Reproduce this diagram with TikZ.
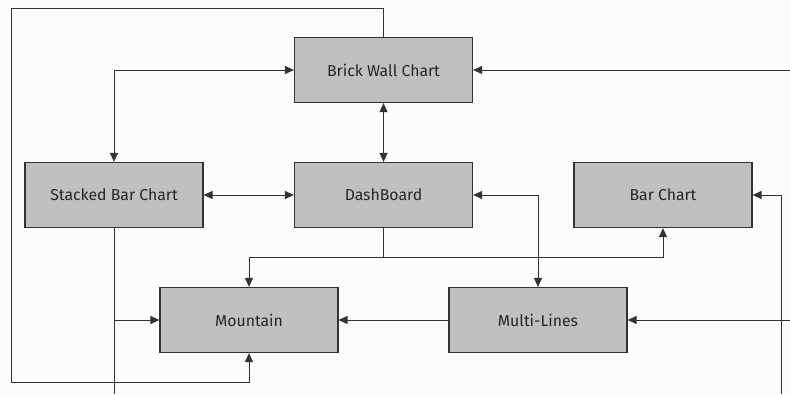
\documentclass[tikz,border=0pt]{standalone}
\usepackage{fontspec}
\setmainfont{Fira Sans}
\usetikzlibrary{arrows.meta}
\definecolor{boxfill}{HTML}{C0C0C0}
\definecolor{linec}{HTML}{333333}
\definecolor{bgc}{HTML}{FCFCFC}
\begin{document}
\begin{tikzpicture}[x=1pt,y=-1pt,
  chartbox/.style={draw=linec,line width=1.2pt,fill=boxfill,minimum width=178pt,minimum height=65pt,inner sep=0pt,text=black!85,font=\fontsize{15.8}{18}\selectfont},
  conn/.style={draw=linec,line width=1pt},
  tip/.style={-{Triangle[length=9pt,width=8pt]}},
  tips/.style={{Triangle[length=9pt,width=8pt]}-{Triangle[length=9pt,width=8pt]}}]
\path[fill=bgc,use as bounding box] (0,0) rectangle (790,394);
\node[chartbox] (bw) at (383.5,70) {Brick Wall Chart};
\node[chartbox] (sb) at (114,195) {Stacked Bar Chart};
\node[chartbox] (db) at (383.5,195) {DashBoard};
\node[chartbox] (bc) at (663,195) {Bar Chart};
\node[chartbox] (mt) at (249,320) {Mountain};
\node[chartbox] (ml) at (538,320) {Multi-Lines};
\coordinate (j) at (383.5,257);
\coordinate (tl) at (11,8);
\coordinate (bl) at (11,382);
\coordinate (r1) at (790,70);
\coordinate (r2) at (790,320);
\coordinate (rb) at (781,394);
\coordinate (sbb) at (114,394);
\coordinate (sj) at (114,320);
\draw[conn,tips] (sb.north) |- (bw.west);
\draw[conn,tips] (bw.south) -- (db.north);
\draw[conn,tips] (sb.east) -- (db.west);
\draw[conn,tips] (db.east) -| (ml.north);
\draw[conn] (db.south) -- (j);
\draw[conn,tip] (j) -| (mt.north);
\draw[conn,tip] (j) -| (bc.south);
\draw[conn,tip] (bw.north) |- (tl) |- (bl) -| (mt.south);
\draw[conn,tip] (r1) -- (bw.east);
\draw[conn,tip] (r2) -- (ml.east);
\draw[conn,tip] (rb) |- (bc.east);
\draw[conn] (sb.south) -- (sbb);
\draw[conn,tip] (sj) -- (mt.west);
\draw[conn,tip] (ml.west) -- (mt.east);
\end{tikzpicture}
\end{document}
